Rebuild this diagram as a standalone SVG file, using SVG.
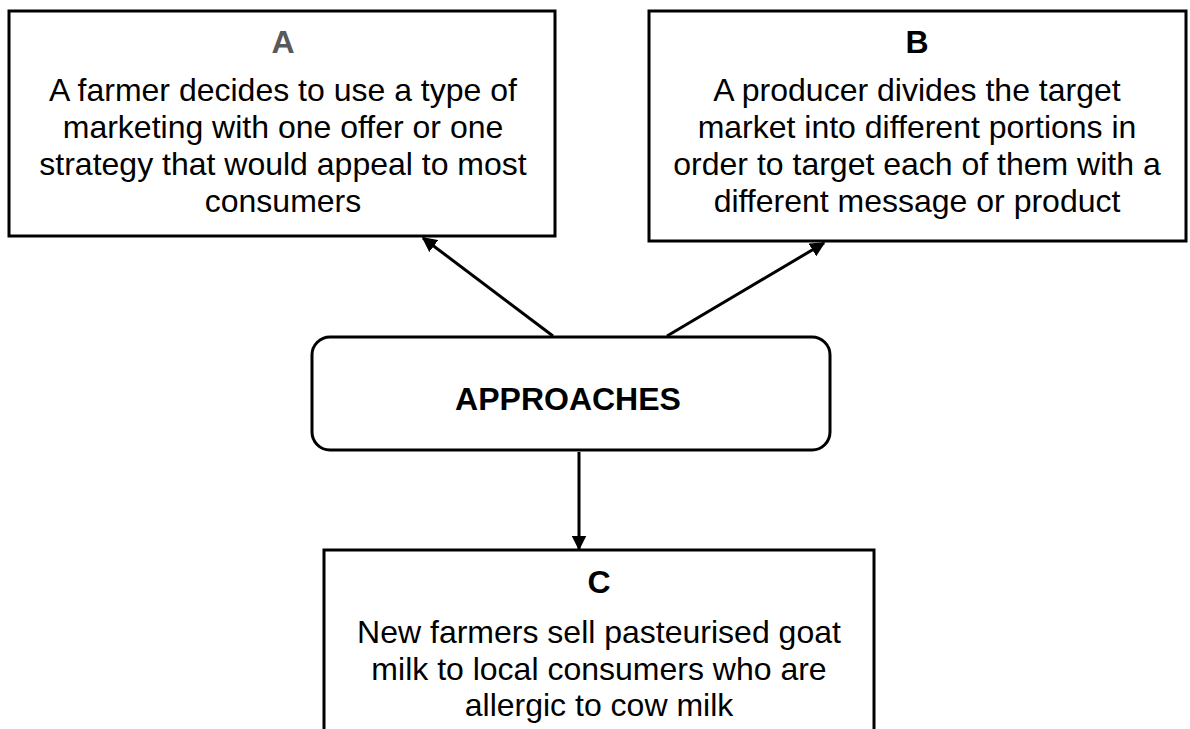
<svg xmlns="http://www.w3.org/2000/svg" width="1190" height="729" viewBox="0 0 1190 729">
<style>
.box{fill:#fff;stroke:#000;stroke-width:3}
.t{font-family:"Liberation Sans",Arial,sans-serif;font-size:32px;fill:#000;text-anchor:middle}
.h{font-weight:bold}
.conn{stroke:#000;stroke-width:3;fill:none;marker-end:url(#arr)}
</style>
<defs>
<marker id="arr" viewBox="0 0 10 10" refX="9" refY="5" markerWidth="5" markerHeight="5" orient="auto" markerUnits="strokeWidth">
<path d="M0,0 L10,5 L0,10 z" fill="#000"/>
</marker>
</defs>
<rect width="1190" height="729" fill="#fff"/>
<g id="nodeA">
<rect class="box" x="9" y="11" width="546" height="225"/>
<text class="t h" x="283" y="53" style="fill:#595959">A</text>
<text class="t" x="283" y="101">A farmer decides to use a type of</text>
<text class="t" x="283" y="138">marketing with one offer or one</text>
<text class="t" x="283" y="175">strategy that would appeal to most</text>
<text class="t" x="283" y="212">consumers</text>
</g>
<g id="nodeB">
<rect class="box" x="649" y="11" width="537" height="230"/>
<text class="t h" x="917" y="53">B</text>
<text class="t" x="917" y="101">A producer divides the target</text>
<text class="t" x="917" y="138">market into different portions in</text>
<text class="t" x="917" y="175">order to target each of them with a</text>
<text class="t" x="917" y="212">different message or product</text>
</g>
<g id="nodeApproaches">
<rect class="box" x="312" y="337" width="518" height="113" rx="18" ry="18"/>
<text class="t h" x="568" y="410">APPROACHES</text>
</g>
<g id="nodeC">
<rect class="box" x="324" y="550" width="550" height="200"/>
<text class="t h" x="599" y="593">C</text>
<text class="t" x="599" y="643">New farmers sell pasteurised goat</text>
<text class="t" x="599" y="680">milk to local consumers who are</text>
<text class="t" x="599" y="716">allergic to cow milk</text>
</g>
<g id="connectors">
<line class="conn" x1="553" y1="336" x2="423" y2="238"/>
<line class="conn" x1="667" y1="336" x2="824" y2="243"/>
<line class="conn" x1="579" y1="452" x2="579" y2="549"/>
</g>
</svg>
